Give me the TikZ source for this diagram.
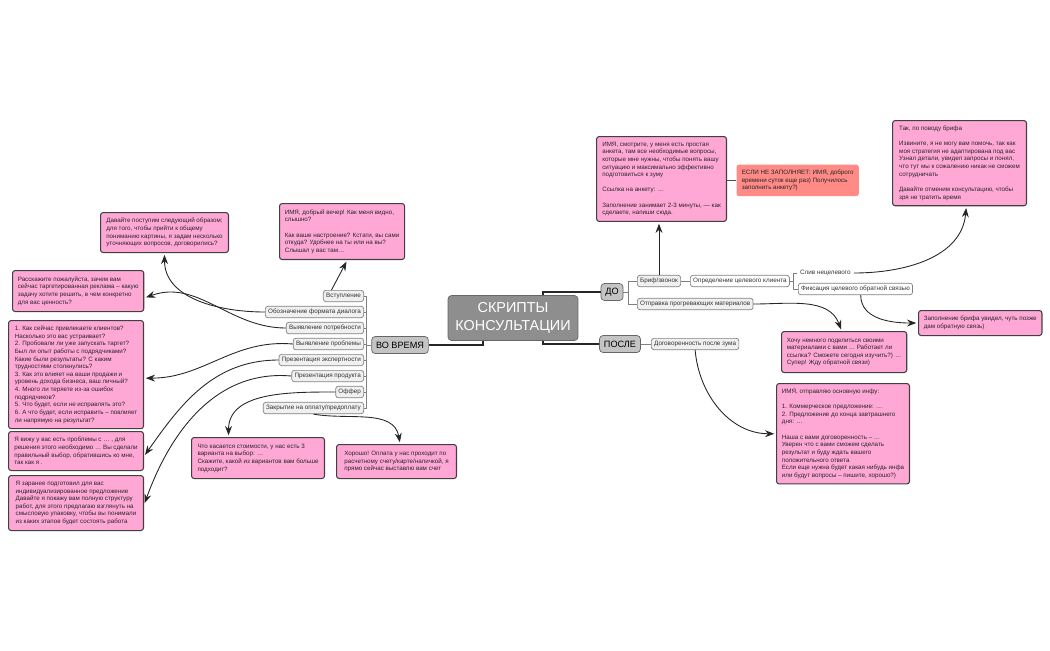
\documentclass[tikz,border=0pt]{standalone}
\usepackage{fontspec}
\setmainfont{Liberation Sans}
\usetikzlibrary{positioning,arrows.meta,calc}

\definecolor{notepink}{HTML}{FFA8D6}
\definecolor{notered}{HTML}{FF8A86}
\definecolor{rootgray}{HTML}{8E8E8E}
\definecolor{topgray}{HTML}{C4C4C4}

\begin{document}
\begin{tikzpicture}[x=0.02cm, y=-0.02cm, >=Stealth,
  note/.style={rectangle, draw=black!75, fill=notepink, line width=0.6pt, rounded corners=1.5pt,
    anchor=north west, align=left, inner sep=3pt, font=\fontsize{3.55}{4.35}\selectfont, text=black!85},
  item/.style={rectangle, draw=gray, fill=gray!12, rounded corners=1.5pt, inner sep=1.6pt,
    font=\fontsize{3.6}{4.5}\selectfont, text=black!80},
  topic/.style={rectangle, draw=black!60, fill=topgray, rounded corners=2pt, inner sep=2.5pt,
    font=\fontsize{5.2}{6.5}\selectfont, minimum height=0.34cm},
  branch/.style={line width=1pt, black!85},
  twig/.style={line width=0.4pt, gray},
  arr/.style={->, line width=0.5pt, black!85, shorten >=1pt}]
  \useasboundingbox (0,0) rectangle (1050,650);

  % Nodes
  \node[rectangle, draw=black!60, fill=rootgray, rounded corners=2pt, text=white, align=center,
    minimum width=2.6cm, minimum height=0.9cm, font=\fontsize{8.2}{10}\selectfont] (root) at (513,318) {СКРИПТЫ\\КОНСУЛЬТАЦИИ};
  \node[topic] (do) at (612,292) {ДО};
  \node[topic] (posle) at (620,344) {ПОСЛЕ};
  \node[topic] (vo) at (400,345) {ВО ВРЕМЯ};

  % during
  \node[item, anchor=east] (intro) at (364,296) {Вступление};
  \node[item, anchor=east] (format) at (364,312) {Обозначение формата диалога};
  \node[item, anchor=east] (need) at (364,328) {Выявление потребности};
  \node[item, anchor=east] (problem) at (364,344) {Выявление проблемы};
  \node[item, anchor=east] (expert) at (364,360) {Презентация экспертности};
  \node[item, anchor=east] (product) at (364,376) {Презентация продукта};
  \node[item, anchor=east] (offer) at (364,392) {Оффер};
  \node[item, anchor=east] (closing) at (364,408) {Закрытие на оплату/предоплату};

  % before / after
  \node[item, anchor=west] (brief) at (637,281) {Бриф/звонок};
  \node[item, anchor=west] (warmup) at (637,304) {Отправка прогревающих материалов};
  \node[item, anchor=west, fill=white] (target) at (690,281) {Определение целевого клиента};
  \node[item, anchor=west, draw=none, fill=none] (drain) at (797,273) {Слив нецелевого};
  \node[item, anchor=west, fill=white] (fix) at (798,289) {Фиксация целевого обратной связью};
  \node[item, anchor=west] (deal) at (651,344) {Договоренность после зума};

  % notes left
  \node[note, minimum width=2.56cm, minimum height=0.8cm] (pformat) at (100,212) {Давайте поступим следующий образом:\\ для того, чтобы прийти к общему\\ пониманию картины, я задам несколько\\ уточняющих вопросов, договорились?};
  \node[note, minimum width=2.62cm, minimum height=0.82cm] (pneed) at (12,270) {Расскажите пожалуйста, зачем вам\\ сейчас таргетированная реклама – какую\\ задачу хотите решить, в чем конкретно\\ для вас ценность?};
  \node[note, minimum width=2.7cm] (pproblem) at (8,320) {1. Как сейчас привлекаете клиентов?\\ Насколько это вас устраивает?\\ 2. Пробовали ли уже запускать таргет?\\ Был ли опыт работы с подрядчиками?\\ Какие были результаты? С каким\\ трудностями столкнулись?\\ 3. Как это влияет на ваши продажи и\\ уровень дохода бизнеса, ваш личный?\\ 4. Много ли теряете из-за ошибок\\ подрядчиков?\\ 5. Что будет, если не исправлять это?\\ 6. А что будет, если исправить – повлияет\\ ли напрямую на результат?};
  \node[note, minimum width=2.7cm, minimum height=0.78cm] (pexpert) at (8,431) {Я вижу у вас есть проблемы с … , для\\ решения этого необходимо … Вы сделали\\ правильный выбор, обратившись ко мне,\\ так как я .};
  \node[note, minimum width=2.7cm, minimum height=1.1cm] (pproduct) at (8,475) {Я заранее подготовил для вас\\ индивидуализированное предложение\\ Давайте я покажу вам полную структуру\\ работ, для этого предлагаю взглянуть на\\ смысловую упаковку, чтобы вы понимали\\ из каких этапов будет состоять работа};
  \node[note, minimum width=2.48cm, minimum height=1.12cm] (pintro) at (279,203) {ИМЯ, добрый вечер! Как меня видно,\\ слышно?\\ ~\\ Как ваше настроение? Кстати, вы сами\\ откуда? Удобнее на ты или на вы?\\ Слышал у вас там…};
  \node[note, minimum width=2.66cm, minimum height=0.82cm] (poffer) at (191,437) {Что касается стоимости, у нас есть 3\\ варианта на выбор: …\\ Скажите, какой из вариантов вам больше\\ подходит?};
  \node[note, minimum width=2.4cm, minimum height=0.68cm] (pclosing) at (336,444) {Хорошо! Оплата у нас проходит по\\ расчетному счету/карте/наличкой, я\\ прямо сейчас выставлю вам счет};

  % notes right
  \node[note, minimum width=2.6cm, minimum height=1.68cm] (pbrief) at (596,136) {ИМЯ, смотрите, у меня есть простая\\ анкета, там все необходимые вопросы,\\ которые мне нужны, чтобы понять вашу\\ ситуацию и максимально эффективно\\ подготовиться к зуму\\ ~\\ Ссылка на анкету:  …\\ ~\\ Заполнение занимает 2-3 минуты, — как\\ сделаете, напиши сюда.};
  \node[note, draw=none, fill=notered, minimum width=2.24cm, minimum height=0.54cm] (premind) at (736,164) {ЕСЛИ НЕ ЗАПОЛНЯЕТ: ИМЯ, доброго\\ времени суток еще раз) Получилось\\ заполнить анкету?)};
  \node[note, minimum width=2.68cm, minimum height=1.68cm] (pdrain) at (892,120) {Так, по поводу брифа\\ ~\\ Извините, я не могу вам помочь, так как\\ моя стратегия не адаптирована под вас\\ Узнал детали, увидел запросы и понял,\\ что тут мы к сожалению никак не сможем\\ сотрудничать\\ ~\\ Давайте отменим консультацию, чтобы\\ зря не тратить время};
  \node[note, minimum width=2.44cm, minimum height=0.5cm] (pfix) at (918,310) {Заполнение брифа увидел, чуть позже\\ дам обратную связь)};
  \node[note, minimum width=2.42cm, minimum height=0.82cm] (pwarmup) at (781,331) {Хочу немного поделиться своими\\ материалами с вами … Работает ли\\ ссылка? Сможете сегодня изучить?) …\\ Супер! Жду обратной связи)};
  \node[note, minimum width=2.66cm, minimum height=1.98cm] (pdeal) at (776,383) {ИМЯ, отправляю основную инфу:\\ ~\\ 1. Коммерческое предложение: …\\ 2. Предложение до конца завтрашнего\\ дня: …\\ ~\\ Наша с вами договоренность – …\\ Уверен что с вами сможем сделать\\ результат и буду ждать вашего\\ положительного ответа\\ Если еще нужна будет какая нибудь инфа\\ или будут вопросы – пишите, хорошо?)};

  % Branches
  \draw[branch] (do.west) -| ([xshift=-20]root.north east);
  \draw[branch] (posle.west) -| ([xshift=-20]root.south east);
  \draw[branch] (vo.east) -| ([xshift=20]root.south west);
  \foreach \n in {intro,format,need,problem,expert,product,offer,closing}
    \draw[twig] (vo.west) -- ++(-5,0) |- (\n.east);
  \draw[twig] (do.east) -- ++(5,0) |- (brief.west);
  \draw[twig] (do.east) -- ++(5,0) |- (warmup.west);
  \draw[twig] (brief) -- (target);
  \draw[twig] (target.east) -- ++(4,0) |- (drain.west);
  \draw[twig] (target.east) -- ++(4,0) |- (fix.west);
  \draw[twig] (posle) -- (deal);
  \draw[line width=0.5pt, black!70] (pbrief.east |- premind.west) -- (premind.west);

  % Arrows
  \draw[arr] (intro.north) ++(-12,0) -- ([xshift=3]pintro.south);
  \draw[arr] (format.west) to[out=180, in=-90] ($(pformat.south west)!0.5!(pformat.south east)$);
  \draw[arr] (need.west) to[out=180, in=20] ([yshift=-4]pneed.east);
  \draw[arr] (problem.west) to[out=175, in=0] ([yshift=-2]pproblem.east);
  \draw[arr] (expert.west) to[out=180, in=55] ([yshift=-3]pexpert.east);
  \draw[arr] (product.west) to[out=175, in=70] ([yshift=-1]pproduct.east);
  \draw[arr] (offer.west) to[out=180, in=90] ($(poffer.north west)!0.28!(poffer.north east)$);
  \draw[arr] (closing.south) to[out=-10, in=100] ($(pclosing.north west)!0.53!(pclosing.north east)$);
  \draw[arr] (brief.north) -- (brief.north |- pbrief.south);
  \draw[arr] (drain.east) to[out=0, in=-95] ($(pdrain.south west)!0.55!(pdrain.south east)$);
  \draw[arr] ([xshift=3]fix.south) to[out=-90, in=180] (pfix.west);
  \draw[arr] (warmup.east) to[out=0, in=110] ($(pwarmup.north west)!0.48!(pwarmup.north east)$);
  \draw[arr] (deal.south) to[out=-85, in=180] (pdeal.west);
\end{tikzpicture}
\end{document}
